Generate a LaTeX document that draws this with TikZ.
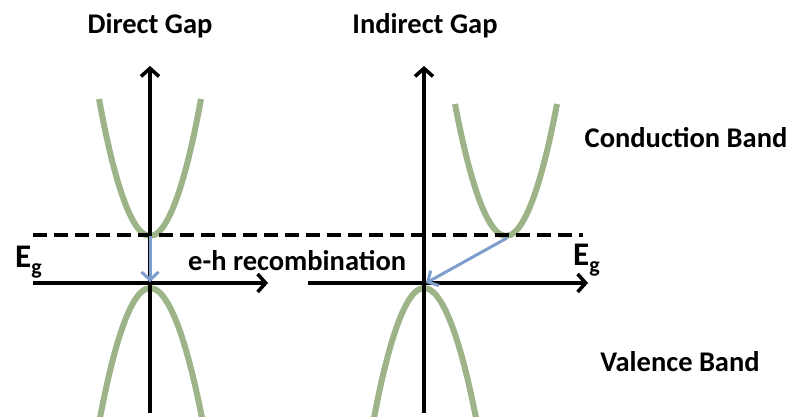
\documentclass[tikz,border=0pt]{standalone}
\usepackage{fontspec}
\setmainfont{Carlito}
\usetikzlibrary{arrows.meta}
\definecolor{bandgreen}{RGB}{157,180,136}
\definecolor{recblue}{RGB}{126,158,204}
\tikzset{
  axis/.style={line width=3.6pt,black,-{Straight Barb[length=8pt,width=18pt]}},
  band/.style={line width=6pt,bandgreen},
  gapline/.style={line width=3.6pt,black,dash pattern=on 14pt off 7pt},
  recarrow/.style={line width=3pt,recblue,-{Straight Barb[length=8pt,width=17pt]}},
  lbl/.style={font=\fontsize{28.5}{32}\selectfont\bfseries,inner sep=0pt,anchor=base},
}
\newcommand{\Egap}{{\fontsize{33}{33}\selectfont\bfseries E}\raisebox{-7pt}{\fontsize{22}{22}\selectfont\bfseries g}}
\begin{document}
\begin{tikzpicture}[x=1pt,y=-1pt]
\useasboundingbox (0,0) rectangle (789,416);
% coordinates
\coordinate (dvb) at (150,413);
\coordinate (dvt) at (150,66);
\coordinate (dhl) at (33,283);
\coordinate (dhr) at (268,283);
\coordinate (ivb) at (424,413);
\coordinate (ivt) at (424,66);
\coordinate (ihl) at (308,283);
\coordinate (ihr) at (588,283);
\coordinate (gl) at (33,235);
\coordinate (gr) at (583,235);
\coordinate (dcb) at (150,236);
\coordinate (dvtop) at (150,288);
\coordinate (icb) at (506,236);
\coordinate (ivtop) at (424,288);
% bands
\draw[band] (99,99) parabola bend (dcb) (201,99);
\draw[band] (100,418) parabola bend (dvtop) (202,418);
\draw[band] (455,104) parabola bend (icb) (557,104);
\draw[band] (374,418) parabola bend (ivtop) (476,418);
% gap line
\draw[gapline] (gl) -- (gr);
% axes
\draw[axis] (dvb) -- (dvt);
\draw[axis] (dhl) -- (dhr);
\draw[axis] (ivb) -- (ivt);
\draw[axis] (ihl) -- (ihr);
% recombination arrows
\coordinate (dtip) at (150,282);
\coordinate (istart) at (507,238);
\coordinate (itip) at (426,283);
\draw[recarrow] (dcb) -- (dtip);
\draw[recarrow] (istart) -- (itip);
% labels
\node[lbl] (tdirect) at (150,33) {Direct Gap};
\node[lbl] (tindirect) at (425,33) {Indirect Gap};
\node[lbl] (tcond) at (686,147) {Conduction Band};
\node[lbl] (tval) at (680,371) {Valence Band};
\node[lbl,anchor=base west] (trec) at (188,270) {e-h recombination};
\node[inner sep=0pt,anchor=base west] (egl) at (15,267) {\Egap};
\node[inner sep=0pt,anchor=base west] (egr) at (573,265) {\Egap};
\end{tikzpicture}
\end{document}
